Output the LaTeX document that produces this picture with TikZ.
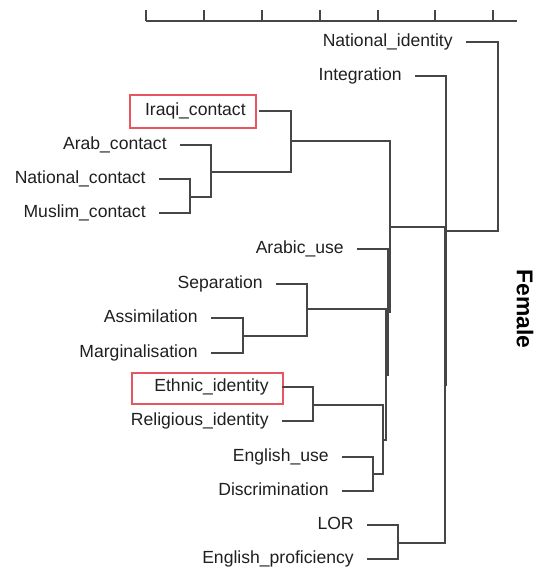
\documentclass[tikz,border=0pt]{standalone}
\usepackage{fontspec}
\setmainfont{Liberation Sans}
\definecolor{boxred}{RGB}{232,84,96}
\definecolor{treegray}{RGB}{70,70,70}
\tikzset{
    leaf/.style={anchor=east, inner xsep=0.26cm, inner ysep=0pt,
      text height=1.5ex, text depth=0.55ex,
      font=\fontsize{10}{12}\selectfont, text=black!88},
    branch/.style={draw=treegray, line width=0.6pt},
    redbox/.style={draw=boxred, line width=0.6pt},
  }

\begin{document}
\begin{tikzpicture}[x=0.02cm, y=-0.02cm]
			          %one unit = one pixel, y runs downwards
			          %leaf lines start at the east anchor of each label
			          %a join is drawn as  (upper) -| (join) |- (lower)
				  \useasboundingbox (0,0) rectangle (538,572);

				  % distance scale
				  \draw[branch] (146,21) -- (517,21);
				  \foreach \t in {146,204,262,320,378,435,493}
				    \draw[branch] (\t,10) -- (\t,21);

				  % labels
				  \node[leaf] (natid)   at (466,42)  {National\_identity};
				  \node[leaf] (integ)   at (415,76)  {Integration};
				  \node[leaf] (iraqi)   at (259,111) {Iraqi\_contact};
				  \node[leaf] (arab)    at (180,145) {Arab\_contact};
				  \node[leaf] (natc)    at (159,179) {National\_contact};
				  \node[leaf] (musc)    at (159,213) {Muslim\_contact};
				  \node[leaf] (arabic)  at (357,249) {Arabic\_use};
				  \node[leaf] (sep)     at (276,284) {Separation};
				  \node[leaf] (ass)     at (211,318) {Assimilation};
				  \node[leaf] (marg)    at (211,353) {Marginalisation};
				  \node[leaf] (eth)     at (282,387) {Ethnic\_identity};
				  \node[leaf] (rel)     at (282,421) {Religious\_identity};
				  \node[leaf] (enguse)  at (342,457) {English\_use};
				  \node[leaf] (disc)    at (342,491) {Discrimination};
				  \node[leaf] (lor)     at (367,525) {LOR};
				  \node[leaf] (engprof) at (367,559) {English\_proficiency};

				  \draw[redbox] (130,95) rectangle (256,128);
				  \draw[redbox] (132,373) rectangle (283,404);

				  % joins
				  \coordinate (m1)  at (190,197);
				  \coordinate (m2)  at (211,172);
				  \coordinate (m3)  at (291,141);
				  \coordinate (m4)  at (243,336);
				  \coordinate (m5)  at (307,309);
				  \coordinate (m6)  at (313,405);
				  \coordinate (m7)  at (373,474);
				  \coordinate (m8)  at (383,440);
				  \coordinate (m9)  at (386,375);
				  \coordinate (m10) at (388,312);
				  \coordinate (m11) at (390,227);
				  \coordinate (m12) at (398,543);
				  \coordinate (m13) at (445,385);
				  \coordinate (m14) at (446,231);
				  \coordinate (m15) at (498,136);

				  \draw[branch] (natc.east) -| (m1) |- (musc.east);
				  \draw[branch] (arab.east) -| (m2) |- (m1);
				  \draw[branch] (iraqi.east) -| (m3) |- (m2);
				  \draw[branch] (ass.east) -| (m4) |- (marg.east);
				  \draw[branch] (sep.east) -| (m5) |- (m4);
				  \draw[branch] (eth.east) -| (m6) |- (rel.east);
				  \draw[branch] (enguse.east) -| (m7) |- (disc.east);
				  \draw[branch] (m6) -| (m8) |- (m7);
				  \draw[branch] (m5) -| (m9) |- (m8);
				  \draw[branch] (arabic.east) -| (m10) |- (m9);
				  \draw[branch] (m3) -| (m11) |- (m10);
				  \draw[branch] (lor.east) -| (m12) |- (engprof.east);
				  \draw[branch] (m11) -| (m13) |- (m12);
				  \draw[branch] (integ.east) -| (m14) |- (m13);
				  \draw[branch] (natid.east) -| (m15) |- (m14);

				  \node[rotate=-90, font=\fontsize{13}{15}\selectfont\bfseries] (grp) at (525,309) {Female};
				  \end{tikzpicture}
\end{document}
